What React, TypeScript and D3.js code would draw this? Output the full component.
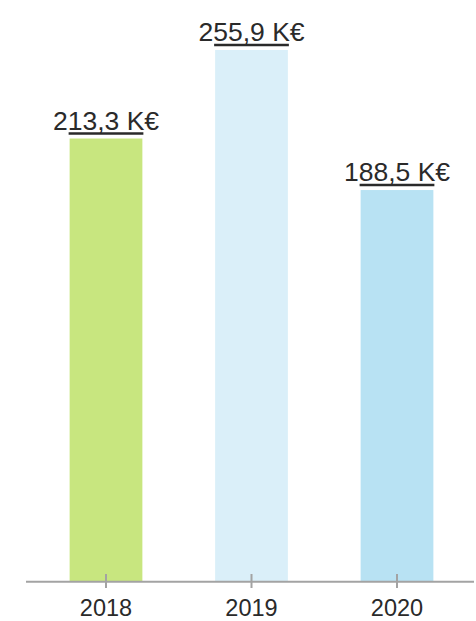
import React from "react";
import * as d3 from "d3";

const categories = ["2018", "2019", "2020"];
const values = [213.3, 255.9, 188.5];
const valueLabels = ["213,3 K€", "255,9 K€", "188,5 K€"];
const colors = ["#c8e67f", "#daeff9", "#b8e2f3"];

const W = 476;
const H = 621;
const baseY = 581.7;

export default function App() {
  const x = d3
    .scaleBand<string>()
    .domain(categories)
    .range([33.25, 469.75])
    .paddingInner(0.5)
    .paddingOuter(0.25);
  const y = d3.scaleLinear().domain([0, 255.9]).range([baseY, 50]);
  const font = "'Liberation Sans', Arial, sans-serif";
  return (
    <svg
      width={W}
      height={H}
      style={{ position: "absolute", left: 0, top: 0, background: "#fff" }}
    >
      {categories.map((c, i) => {
        const bx = x(c)!;
        const bw = x.bandwidth();
        const top = y(values[i]);
        return (
          <g key={c}>
            <rect x={bx} y={top} width={bw} height={baseY - top} fill={colors[i]} />
            <line
              x1={bx - 1}
              x2={bx + bw + 1}
              y1={top - 5}
              y2={top - 5}
              stroke="#2a2a2a"
              strokeWidth={2.5}
            />
            <text
              x={bx + bw / 2}
              y={top - 9}
              textAnchor="middle"
              fontFamily={font}
              fontSize={26.5}
              fill="#2a2a2a"
            >
              {valueLabels[i]}
            </text>
          </g>
        );
      })}
      <line x1={26} x2={474} y1={baseY} y2={baseY} stroke="#a3a3a3" strokeWidth={2} />
      {categories.map((c) => {
        const cx = x(c)! + x.bandwidth() / 2;
        return (
          <g key={"t" + c}>
            <line x1={cx} x2={cx} y1={574} y2={588} stroke="#a3a3a3" strokeWidth={2} />
            <text
              x={cx}
              y={616}
              textAnchor="middle"
              fontFamily={font}
              fontSize={23.5}
              fill="#2a2a2a"
            >
              {c}
            </text>
          </g>
        );
      })}
    </svg>
  );
}
